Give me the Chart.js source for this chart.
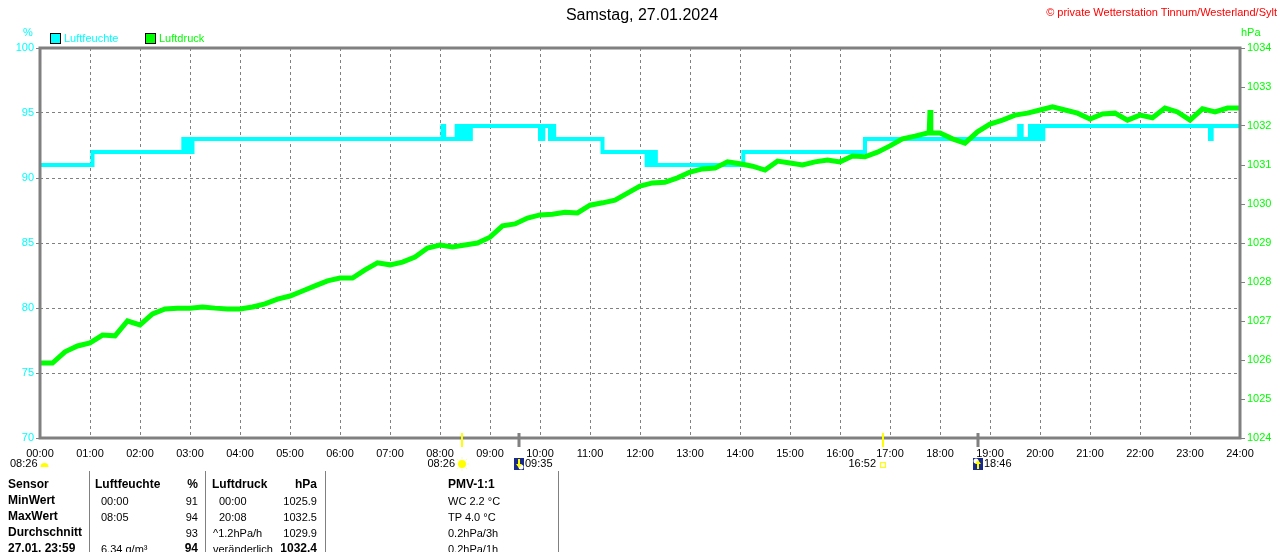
<!DOCTYPE html>
<html lang="de">
<head>
<meta charset="utf-8">
<title>Samstag, 27.01.2024</title>
<script src="https://cdn.jsdelivr.net/npm/chart.js@4.4.1/dist/chart.umd.min.js"></script>
<style>
  body { margin: 0; background: #fff; font-family: "Liberation Sans", Arial, sans-serif; }
  #wrap { position: relative; width: 1280px; height: 552px; overflow: hidden; }
  #chart { position: absolute; left: 0; top: 0; }
  .t { position: absolute; white-space: nowrap; font-size: 11px; line-height: 14px; }
  .b { font-weight: bold; font-size: 12px; }
  .r { text-align: right; transform: translateX(-100%); }
  .box { position: absolute; width: 9px; height: 9px; border: 1px solid #000; }
  .sep { position: absolute; top: 471px; width: 1px; height: 90px; background: #808080; }
</style>
</head>
<body>
<div id="wrap">
  <canvas id="chart" width="1280" height="552"></canvas>
  <div class="t" style="left:0;width:1284px;top:6px;font-size:16px;line-height:18px;text-align:center">Samstag, 27.01.2024</div>
  <div class="t" style="left:1277px;top:5px;color:#ff0000;transform:translateX(-100%)">© private Wetterstation Tinnum/Westerland/Sylt</div>
  <div class="t" style="left:23px;top:25px;color:#00ffff">%</div>
  <div class="t" style="left:1241px;top:25px;color:#00ff00">hPa</div>
  <div class="box" style="left:50px;top:33px;background:#00ffff"></div>
  <div class="t" style="left:64px;top:31px;color:#00ffff">Luftfeuchte</div>
  <div class="box" style="left:145px;top:33px;background:#00ff00"></div>
  <div class="t" style="left:159px;top:31px;color:#00ff00">Luftdruck</div>
  <div id="table"></div>
</div>
<script>
// Luftfeuchte (%), Wert gilt ab dem Zeitpunkt
const humTimes = ['00:00', '01:03', '02:52', '02:54', '02:57', '02:59', '03:03', '08:03', '08:05', '08:20', '08:22', '08:25', '08:28', '08:31', '08:33', '08:37', '10:00', '10:04', '10:12', '10:14', '10:17', '11:15', '12:08', '12:10', '12:13', '12:16', '12:19', '14:04', '16:30', '19:35', '19:38', '19:48', '19:50', '19:52', '19:55', '19:58', '20:00', '20:04', '23:24', '23:26', '24:00']
const humValues = [91, 92, 93, 92, 93, 92, 93, 94, 93, 94, 93, 94, 93, 94, 93, 94, 93, 94, 93, 94, 93, 92, 91, 92, 91, 92, 91, 92, 93, 94, 93, 94, 93, 94, 93, 94, 93, 94, 93, 94, 94]

// Luftdruck (hPa)
const presTimes = ['00:00', '00:15', '00:30', '00:45', '01:00', '01:15', '01:30', '01:45', '02:00', '02:15', '02:30', '02:45', '03:00', '03:15', '03:30', '03:45', '04:00', '04:15', '04:30', '04:45', '05:00', '05:15', '05:30', '05:45', '06:00', '06:15', '06:30', '06:45', '07:00', '07:15', '07:30', '07:45', '08:00', '08:15', '08:30', '08:45', '09:00', '09:15', '09:30', '09:45', '10:00', '10:15', '10:30', '10:45', '11:00', '11:15', '11:30', '11:45', '12:00', '12:15', '12:30', '12:45', '13:00', '13:15', '13:30', '13:45', '14:00', '14:15', '14:30', '14:45', '15:00', '15:15', '15:30', '15:45', '16:00', '16:15', '16:30', '16:45', '17:00', '17:15', '17:30', '17:45', '17:47', '17:48', '17:49', '18:00', '18:15', '18:30', '18:45', '19:00', '19:15', '19:30', '19:45', '20:00', '20:15', '20:30', '20:45', '21:00', '21:15', '21:30', '21:45', '22:00', '22:15', '22:30', '22:45', '23:00', '23:15', '23:30', '23:45', '24:00']
const presValues = [1025.92, 1025.92, 1026.21, 1026.36, 1026.44, 1026.64, 1026.62, 1027.00, 1026.90, 1027.18, 1027.31, 1027.33, 1027.33, 1027.36, 1027.33, 1027.31, 1027.31, 1027.36, 1027.44, 1027.56, 1027.64, 1027.77, 1027.90, 1028.03, 1028.10, 1028.10, 1028.31, 1028.49, 1028.44, 1028.51, 1028.64, 1028.87, 1028.95, 1028.90, 1028.95, 1029.00, 1029.15, 1029.44, 1029.49, 1029.64, 1029.72, 1029.74, 1029.79, 1029.77, 1029.97, 1030.03, 1030.10, 1030.28, 1030.46, 1030.54, 1030.56, 1030.67, 1030.82, 1030.90, 1030.92, 1031.08, 1031.03, 1030.97, 1030.87, 1031.10, 1031.05, 1031.00, 1031.08, 1031.13, 1031.08, 1031.23, 1031.21, 1031.33, 1031.49, 1031.67, 1031.74, 1031.82, 1031.82, 1032.41, 1031.82, 1031.82, 1031.67, 1031.56, 1031.85, 1032.05, 1032.15, 1032.28, 1032.33, 1032.41, 1032.49, 1032.41, 1032.33, 1032.18, 1032.31, 1032.33, 1032.15, 1032.28, 1032.21, 1032.46, 1032.36, 1032.15, 1032.44, 1032.36, 1032.46, 1032.46]

// Sonnen- und Mondzeiten
const sunriseTimes = ['08:26']
const sunsetTimes = ['16:52']
const moonsetTimes = ['09:35']
const moonriseTimes = ['18:46']

// Tabelle unten
const colSensor = ['Sensor', 'MinWert', 'MaxWert', 'Durchschnitt', '27.01.  23:59']
const colHumTime = ['Luftfeuchte', '00:00', '08:05', '', '6.34 g/m³']
const colHumValue = ['%', '91', '94', '93', '94']
const colPresTime = ['Luftdruck', '00:00', '20:08', '^1.2hPa/h', 'veränderlich']
const colPresValue = ['hPa', '1025.9', '1032.5', '1029.9', '1032.4']
const colPmv = ['PMV-1:1', 'WC 2.2 °C', 'TP 4.0 °C', '0.2hPa/3h', '0.2hPa/1h']

const toMin = (t) => {
  const [h, m] = t.split(':').map(Number)
  return h * 60 + m
}
const pad = (n) => String(n).padStart(2, '0')

const humData = humTimes.map((t, i) => ({ x: toMin(t), y: humValues[i] }))
const presData = presTimes.map((t, i) => ({ x: toMin(t), y: presValues[i] }))

const GRAY = '#808080'
const FONT = '"Liberation Sans", Arial, sans-serif'

const drawSun = (ctx, x, y) => {
  ctx.strokeStyle = '#ffff99'
  ctx.lineWidth = 1
  for (let k = 0; k < 8; k++) {
    const a = (k * Math.PI) / 4
    ctx.beginPath()
    ctx.moveTo(x + Math.cos(a) * 5, y + Math.sin(a) * 5)
    ctx.lineTo(x + Math.cos(a) * 7, y + Math.sin(a) * 7)
    ctx.stroke()
  }
  ctx.fillStyle = '#ffff00'
  ctx.beginPath()
  ctx.arc(x, y, 4, 0, Math.PI * 2)
  ctx.fill()
}

const drawMoon = (ctx, x, y, up) => {
  ctx.fillStyle = '#1a2a8a'
  ctx.fillRect(x - 5, y - 6, 10, 12)
  ctx.fillStyle = '#ffffff'
  ctx.beginPath()
  ctx.arc(up ? x - 2 : x + 2, up ? y - 3 : y + 3, 2.5, 0, Math.PI * 2)
  ctx.fill()
  ctx.fillStyle = '#ffff00'
  ctx.beginPath()
  if (up) {
    ctx.moveTo(x - 3, y)
    ctx.lineTo(x, y - 4)
    ctx.lineTo(x + 3, y)
  } else {
    ctx.moveTo(x - 3, y)
    ctx.lineTo(x, y + 4)
    ctx.lineTo(x + 3, y)
  }
  ctx.fill()
  ctx.fillRect(x - 1, up ? y : y - 5, 2, 5)
}

const framePlugin = {
  id: 'frame',
  afterDraw(chart) {
    const { ctx, chartArea: a } = chart
    const xs = chart.scales.x
    ctx.save()
    ctx.strokeStyle = GRAY
    ctx.lineWidth = 3
    ctx.strokeRect(a.left, a.top, a.right - a.left, a.bottom - a.top)

    // Markierungen an der Zeitachse
    const tick = (t, color, w) => {
      const x = Math.round(xs.getPixelForValue(toMin(t)))
      ctx.fillStyle = color
      ctx.fillRect(x - w / 2, a.bottom - 5, w, 14)
      return x
    }
    ctx.font = '11px ' + FONT
    ctx.textBaseline = 'middle'
    const ly = 464
    sunriseTimes.forEach((t) => {
      const x = tick(t, '#ffff00', 2)
      drawSun(ctx, x, ly)
      ctx.fillStyle = '#000'
      ctx.textAlign = 'right'
      ctx.fillText(t, x - 7, ly)
    })
    sunsetTimes.forEach((t) => {
      const x = tick(t, '#ffff00', 2)
      ctx.strokeStyle = '#ffff00'
      ctx.lineWidth = 1
      ctx.strokeRect(x - 2.5, ly - 1.5, 5, 5)
      ctx.fillStyle = '#000'
      ctx.textAlign = 'right'
      ctx.fillText(t, x - 7, ly)
    })
    moonsetTimes.forEach((t) => {
      const x = tick(t, GRAY, 3)
      drawMoon(ctx, x, ly, false)
      ctx.fillStyle = '#000'
      ctx.textAlign = 'left'
      ctx.fillText(t, x + 6, ly)
    })
    moonriseTimes.forEach((t) => {
      const x = tick(t, GRAY, 3)
      drawMoon(ctx, x, ly, true)
      ctx.fillStyle = '#000'
      ctx.textAlign = 'left'
      ctx.fillText(t, x + 6, ly)
    })
    // Sonnenaufgang links unten
    ctx.fillStyle = '#000'
    ctx.textAlign = 'left'
    ctx.fillText(sunriseTimes[0], 10, ly)
    ctx.fillStyle = '#ffff00'
    ctx.beginPath()
    ctx.arc(44.5, ly + 3, 4, Math.PI, 0)
    ctx.fill()
    ctx.restore()
  },
}

new Chart(document.getElementById('chart'), {
  type: 'line',
  data: {
    datasets: [
      {
        label: 'Luftfeuchte',
        data: humData,
        yAxisID: 'yH',
        borderColor: '#00ffff',
        borderWidth: 4,
        stepped: true,
        pointRadius: 0,
        order: 1,
      },
      {
        label: 'Luftdruck',
        data: presData,
        yAxisID: 'yP',
        borderColor: '#00ff00',
        borderWidth: 5,
        borderJoinStyle: 'miter',
        tension: 0,
        pointRadius: 0,
        order: 0,
      },
    ],
  },
  options: {
    responsive: false,
    devicePixelRatio: 1,
    animation: false,
    events: [],
    layout: { padding: { top: 48, left: 0, right: 0, bottom: 0 } },
    plugins: { legend: { display: false }, tooltip: { enabled: false } },
    scales: {
      x: {
        type: 'linear',
        min: 0,
        max: 1440,
        afterFit: (s) => { s.height = 114 },
        border: { display: false, dash: [3, 3] },
        grid: { color: GRAY, drawTicks: false },
        ticks: {
          stepSize: 60,
          autoSkip: false,
          maxRotation: 0,
          padding: 9,
          color: '#000',
          font: { family: FONT, size: 11 },
          callback: (v) => pad(v / 60) + ':00',
        },
      },
      yH: {
        position: 'left',
        min: 70,
        max: 100,
        afterFit: (s) => { s.width = 40 },
        border: { display: false, dash: [3, 3] },
        grid: { color: GRAY, tickLength: 4 },
        ticks: { stepSize: 5, padding: 2, color: '#00ffff', font: { family: FONT, size: 11 }, callback: (v) => String(v) },
      },
      yP: {
        position: 'right',
        min: 1024,
        max: 1034,
        afterFit: (s) => { s.width = 40 },
        border: { display: false },
        grid: { drawOnChartArea: false, color: GRAY, tickLength: 5 },
        ticks: { stepSize: 1, padding: 2, color: '#00ff00', font: { family: FONT, size: 11 }, callback: (v) => String(v) },
      },
    },
  },
  plugins: [framePlugin],
})

// Tabelle
const table = document.getElementById('table')
const rowY = [478, 494, 510, 526, 542]
const addCol = (texts, x, opts) => {
  texts.forEach((txt, i) => {
    if (!txt) return
    const d = document.createElement('div')
    d.className = 't'
    if (opts.bold(i)) d.classList.add('b')
    if (opts.right) d.classList.add('r')
    d.style.left = (opts.xs ? opts.xs[i] : x) + 'px'
    d.style.top = rowY[i] + (opts.bold(i) ? -1 : 0) + 'px'
    d.textContent = txt
    table.appendChild(d)
  })
}
addCol(colSensor, 8, { bold: () => true })
addCol(colHumTime, 0, { bold: (i) => i === 0, xs: [95, 101, 101, 101, 101] })
addCol(colHumValue, 198, { bold: (i) => i === 0 || i === 4, right: true })
addCol(colPresTime, 0, { bold: (i) => i === 0, xs: [212, 219, 219, 213, 213] })
addCol(colPresValue, 317, { bold: (i) => i === 0 || i === 4, right: true })
addCol(colPmv, 448, { bold: (i) => i === 0 })
;[89, 205, 325, 558].forEach((x) => {
  const s = document.createElement('div')
  s.className = 'sep'
  s.style.left = x + 'px'
  table.appendChild(s)
})
</script>
</body>
</html>
